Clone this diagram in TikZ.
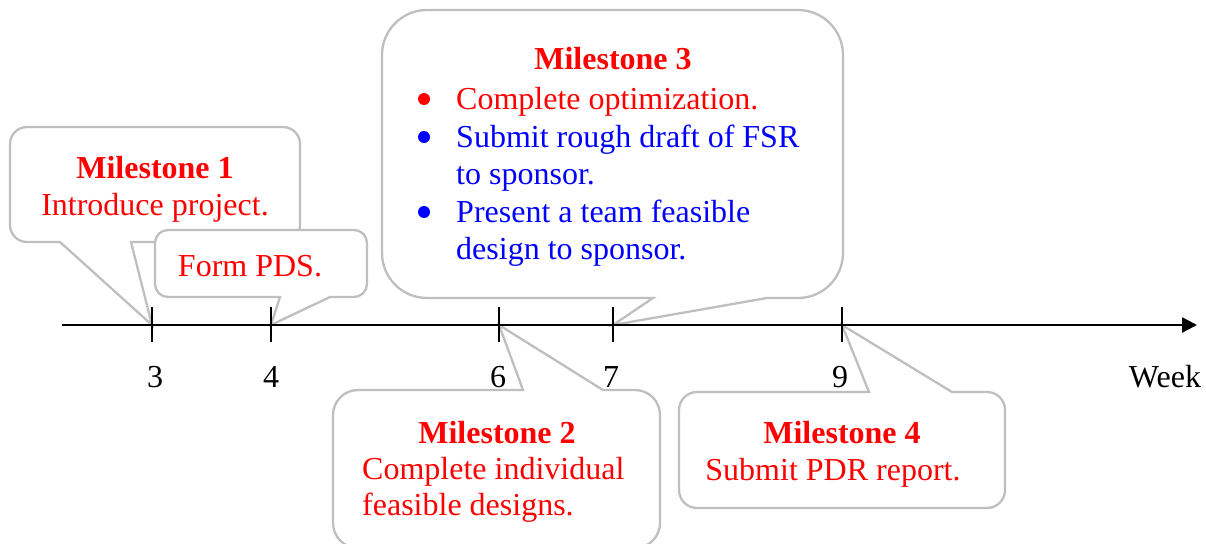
\documentclass[tikz,border=0pt]{standalone}
\usepackage{fontspec}
\setmainfont{Liberation Serif}
\usetikzlibrary{arrows.meta}
\definecolor{bordergray}{RGB}{191,191,191}
\definecolor{pureRed}{RGB}{255,0,0}
\definecolor{pureBlue}{RGB}{0,0,255}
\begin{document}
\begin{tikzpicture}[x=1pt,y=-1pt,
  bubble/.style={draw=bordergray, line width=2.3pt, fill=white, line join=miter},
  txt/.style={anchor=base, inner sep=0pt, font=\fontsize{32}{37}\selectfont},
  ttl/.style={txt, font=\fontsize{32}{37}\selectfont\bfseries, pureRed},
  dot/.style={circle, inner sep=0pt, minimum size=12pt},
  tickline/.style={line width=1.2pt},
  axisline/.style={line width=2.4pt, -{Triangle[length=15pt,width=15pt]}}]
\useasboundingbox (0,0) rectangle (1206,543);
% tick coordinates
\coordinate (t3) at (152,325);
\coordinate (t4) at (271,325);
\coordinate (t6) at (499,325);
\coordinate (t7) at (613,325);
\coordinate (t9) at (842,325);
\coordinate (axs) at (62,325);
\coordinate (axe) at (1197,325);
% Milestone 1
\draw[bubble] (131,242) [rounded corners=17pt] -- (300,242) -- (300,127) -- (10,127) -- (10,242) [sharp corners] -- (60,242) -- (t3) -- cycle;
\node[ttl] (m1t) at (155,178) {Milestone 1};
\node[txt, pureRed] (m1a) at (155,215) {Introduce project.};
% Form PDS
\draw[bubble] (330,297) [rounded corners=13pt] -- (367,297) -- (367,230) -- (155,230) -- (155,297) [sharp corners] -- (280,297) -- (t4) -- cycle;
\node[txt, pureRed] (fp) at (250,276) {Form PDS.};
% Milestone 3
\draw[bubble] (767,298) [rounded corners=45pt] -- (843,298) -- (843,10) -- (382,10) -- (382,298) [sharp corners] -- (653,298) -- (t7) -- cycle;
\node[ttl] (m3t) at (613,69) {Milestone 3};
\node[dot, fill=pureRed] (m3d1) at (424,99) {};
\node[dot, fill=pureBlue] (m3d2) at (424,137) {};
\node[dot, fill=pureBlue] (m3d3) at (424,212) {};
\node[txt, anchor=base west, pureRed] (m3a) at (456,109) {Complete optimization.};
\node[txt, anchor=base west, pureBlue] (m3b) at (456,147) {Submit rough draft of FSR};
\node[txt, anchor=base west, pureBlue] (m3c) at (456,184) {to sponsor.};
\node[txt, anchor=base west, pureBlue] (m3d) at (456,222) {Present a team feasible};
\node[txt, anchor=base west, pureBlue] (m3e) at (456,259) {design to sponsor.};
% Milestone 2
\draw[bubble] (523,390) [rounded corners=25pt] -- (333,390) -- (333,548) -- (660,548) -- (660,390) [sharp corners] -- (603,390) -- (t6) -- cycle;
\node[ttl] (m2t) at (497,443) {Milestone 2};
\node[txt, anchor=base west, pureRed] (m2a) at (362,479) {Complete individual};
\node[txt, anchor=base west, pureRed] (m2b) at (362,515) {feasible designs.};
% Milestone 4
\draw[bubble] (869,392) [rounded corners=18pt] -- (679,392) -- (679,508) -- (1005,508) -- (1005,392) [sharp corners] -- (952,392) -- (t9) -- cycle;
\node[ttl] (m4t) at (842,443) {Milestone 4};
\node[txt, pureRed] (m4a) at (833,480) {Submit PDR report.};
% axis
\draw[axisline] (axs) -- (axe);
\foreach \c in {t3,t4,t6,t7,t9} \draw[tickline] ([yshift=-17pt]\c) -- ([yshift=18pt]\c);
\node[txt] (l3) at (155,387) {3};
\node[txt] (l4) at (271,387) {4};
\node[txt] (l6) at (498,387) {6};
\node[txt] (l7) at (611,387) {7};
\node[txt] (l9) at (840,387) {9};
\node[txt] (lw) at (1165,387) {Week};
\end{tikzpicture}
\end{document}
